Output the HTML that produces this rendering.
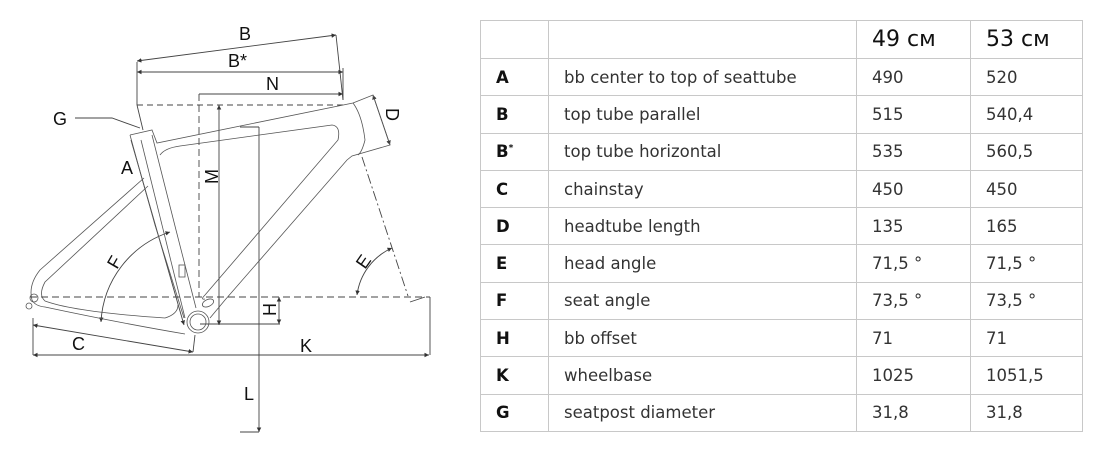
<!DOCTYPE html>
<html><head><meta charset="utf-8"><style>
body{margin:0;width:1097px;height:453px;background:#fff;overflow:hidden;font-family:"Liberation Sans","DejaVu Sans",sans-serif}
svg{position:absolute;left:0;top:0}
table{position:absolute;left:480px;top:20px;border-collapse:collapse;font-family:"DejaVu Sans","Liberation Sans",sans-serif;font-size:16.5px;color:#333}
td{border:1px solid #c8c8c8;height:36.3px;padding:0 0 0 15px;white-space:nowrap}
td.k{font-weight:bold;color:#111;width:52px;padding-left:15px}
tr.h td{height:37px;font-size:22px;color:#111}
</style></head><body>
<svg width="480" height="453" viewBox="0 0 480 453" fill="none" stroke="#444" stroke-width="0.9">
<defs><marker id="a" markerWidth="6" markerHeight="6" refX="5" refY="3" orient="auto-start-reverse"><path d="M0,0.5 L5,3 L0,5.5 z" fill="#333" stroke="none"/></marker></defs>
<line x1="137" y1="61" x2="336" y2="35" marker-start="url(#a)" marker-end="url(#a)"/>
<line x1="137" y1="72" x2="343" y2="72" marker-start="url(#a)" marker-end="url(#a)"/>
<line x1="199" y1="94" x2="343" y2="94" marker-end="url(#a)"/>
<line x1="137" y1="62" x2="137" y2="105"/>
<line x1="137" y1="105" x2="143" y2="130"/>
<line x1="336" y1="35" x2="343" y2="100"/>
<line x1="343" y1="68" x2="343" y2="100"/>
<line x1="137" y1="105" x2="343" y2="105" stroke-dasharray="6,4"/>
<line x1="199" y1="94" x2="199" y2="297" stroke-dasharray="7,4"/>
<line x1="219" y1="105" x2="219" y2="325" marker-start="url(#a)" marker-end="url(#a)"/>
<line x1="259" y1="127" x2="259" y2="432" marker-end="url(#a)"/>
<line x1="240" y1="127" x2="259" y2="127"/>
<line x1="240" y1="432" x2="259" y2="432"/>
<line x1="30" y1="297" x2="430" y2="297" stroke-dasharray="7,4"/>
<line x1="200" y1="324" x2="280" y2="324"/>
<line x1="279" y1="297" x2="279" y2="324" marker-start="url(#a)" marker-end="url(#a)"/>
<line x1="33" y1="355" x2="429" y2="355" marker-start="url(#a)" marker-end="url(#a)"/>
<line x1="430" y1="297" x2="430" y2="355"/>
<line x1="33" y1="318" x2="33" y2="355"/>
<line x1="33" y1="325" x2="193" y2="352" marker-start="url(#a)" marker-end="url(#a)"/>
<line x1="195" y1="335" x2="193" y2="352"/>
<line x1="362" y1="157" x2="408" y2="296" stroke-dasharray="10,3,2,3"/>
<line x1="410" y1="302" x2="425" y2="297"/>
<path d="M392,248 A60,60 0 0 0 357,295" marker-start="url(#a)" marker-end="url(#a)"/>
<path d="M170,232 A100,100 0 0 0 101,322" marker-start="url(#a)" marker-end="url(#a)"/>
<line x1="373" y1="95" x2="390" y2="145" marker-start="url(#a)" marker-end="url(#a)"/>
<line x1="131" y1="140" x2="184" y2="325" marker-end="url(#a)"/>
<polyline points="75,118 112,118 140,128"/>
<g stroke="#555" stroke-width="0.8">
<polyline points="130,135 152,130 157,143 353,103 373,95 390,145 352,156 347,160 225,300 210,318"/>
<polyline points="130,135 141,175 155,225 184,318"/>
<polyline points="141,140 185,318"/>
<polyline points="152,135 176,230 196,308"/>
<path d="M160,155 Q165,148 180,146 L332,125 Q341,126 338,140 L205,295 Q200,300 205,299"/>
<path d="M148,186 L45,282 Q38,295 45,301 Q75,312 165,318 Q178,314 178,305"/>
<path d="M144,178 L40,270 Q28,285 32,300 Q35,306 45,307 Q120,323 185,334"/>
<path d="M353,103 Q362,115 365,140 Q362,152 358,155"/>
<circle cx="198" cy="322" r="11"/><circle cx="198" cy="322" r="8"/>
<ellipse cx="208" cy="303" rx="6" ry="3.5" transform="rotate(-25 208 303)"/>
<rect x="179" y="265" width="6" height="12"/>
<circle cx="34" cy="298" r="4"/><circle cx="29" cy="306" r="3"/>
</g>
<g fill="#111" stroke="none" font-size="18">
<text x="239" y="40">B</text>
<text x="228" y="67">B*</text>
<text x="266" y="90">N</text>
<text x="53" y="125">G</text>
<text x="121" y="174">A</text>
<text x="72" y="350">C</text>
<text x="300" y="352">K</text>
<text x="244" y="400">L</text>
<text transform="translate(218,184) rotate(-90)">M</text>
<text transform="translate(276,316) rotate(-90)">H</text>
<text transform="translate(386,108) rotate(90)">D</text>
<text transform="translate(117,270) rotate(-60)">F</text>
<text transform="translate(365,270) rotate(-55)">E</text>
</g>
</svg>
<table>
<colgroup><col style="width:68px"><col style="width:308px"><col style="width:114px"><col style="width:112px"></colgroup>
<tr class="h"><td class="k"></td><td></td><td>49 см</td><td>53 см</td></tr>
<tr><td class="k">A</td><td>bb center to top of seattube</td><td>490</td><td>520</td></tr>
<tr><td class="k">B</td><td>top tube parallel</td><td>515</td><td>540,4</td></tr>
<tr><td class="k">B<sup style="font-size:9px">*</sup></td><td>top tube horizontal</td><td>535</td><td>560,5</td></tr>
<tr><td class="k">C</td><td>chainstay</td><td>450</td><td>450</td></tr>
<tr><td class="k">D</td><td>headtube length</td><td>135</td><td>165</td></tr>
<tr><td class="k">E</td><td>head angle</td><td>71,5 °</td><td>71,5 °</td></tr>
<tr><td class="k">F</td><td>seat angle</td><td>73,5 °</td><td>73,5 °</td></tr>
<tr><td class="k">H</td><td>bb offset</td><td>71</td><td>71</td></tr>
<tr><td class="k">K</td><td>wheelbase</td><td>1025</td><td>1051,5</td></tr>
<tr><td class="k">G</td><td>seatpost diameter</td><td>31,8</td><td>31,8</td></tr>
</table>
</body></html>
